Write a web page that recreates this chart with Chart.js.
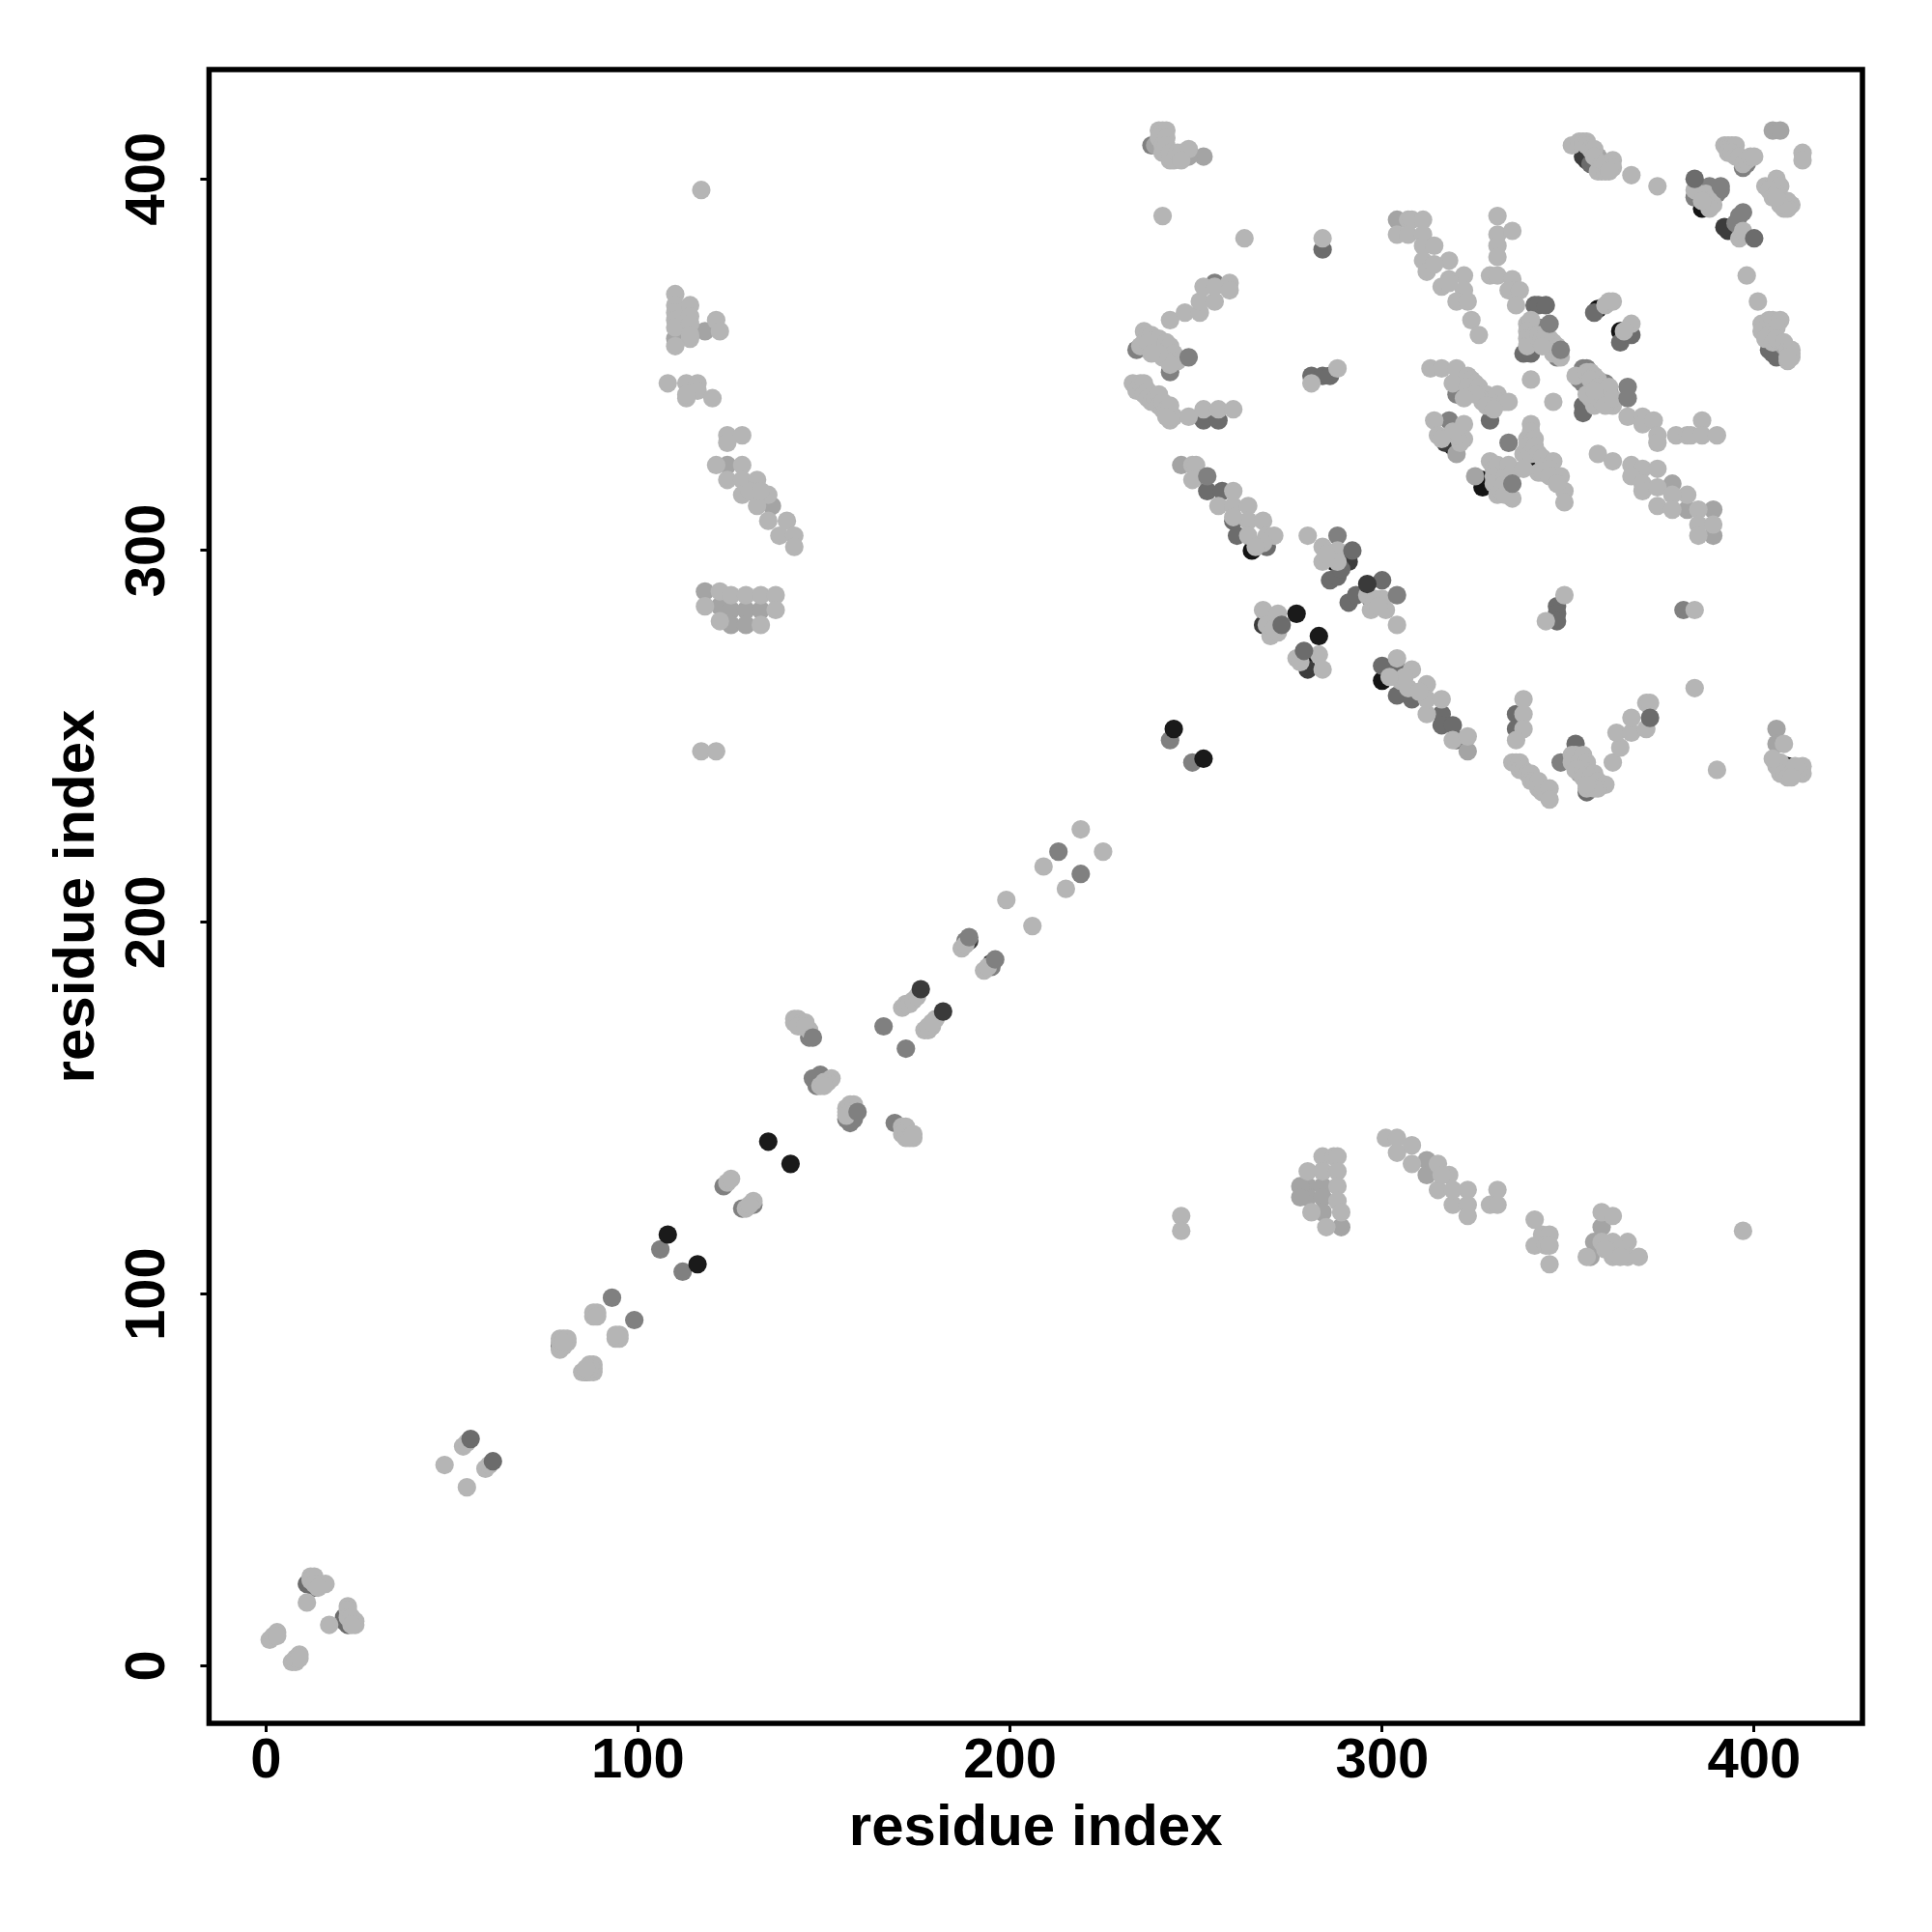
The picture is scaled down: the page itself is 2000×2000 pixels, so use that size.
<!DOCTYPE html>
<html>
<head>
<meta charset="utf-8">
<style>html,body{margin:0;padding:0;background:#fff}canvas{display:block}</style>
<script src="https://cdn.jsdelivr.net/npm/chart.js@4"></script>
</head>
<body>
<canvas id="contact-map" width="2000" height="2000"></canvas>
<script>
'use strict';

const axisTitle = 'residue index';
const xMin = -15.3;
const xMax = 429.1;
const yMin = -15.5;
const yMax = 429.4;
const tickStep = 100;

// [i, j] residue pairs, grouped by shade
const blackPairs = [[240,409],[265,300],[297,287],[287,297],[270,280],[279,271],[300,265],[386,392],[358,365],[364,359],[409,242],[319,328],[327,319],[327,317],[339,323]];
const darkPairs = [[189,195],[195,189],[291,297],[268,280],[280,268],[393,386],[392,387],[317,329],[355,405],[354,406]];
const dimPairs = [[11,22],[13,21],[21,12],[22,11],[21,13],[79,86],[86,79],[250,320],[253,316],[257,316],[260,308],[261,304],[269,301],[286,292],[288,293],[289,295],[291,286],[293,288],[300,292],[300,269],[304,268],[304,261],[308,260],[316,256],[316,253],[319,253],[320,249],[347,285],[347,283],[347,281],[336,256],[336,252],[352,248],[355,235],[357,364],[364,356],[367,358],[341,366],[342,366],[344,366],[338,353],[340,353],[354,339],[354,337],[329,335],[284,381],[281,347],[284,347],[286,347],[252,335],[256,335],[404,354],[405,353],[406,352],[356,404]];
const midPairs = [[112,106],[106,112],[93,99],[99,93],[146,169],[147,158],[149,159],[148,156],[156,147],[158,147],[157,146],[123,129],[131,124],[128,123],[169,146],[166,172],[172,166],[188,195],[195,188],[213,219],[219,213],[243,249],[249,243],[288,304],[381,284],[348,243],[255,372],[243,348],[234,354],[238,409],[318,335],[334,329],[396,390],[388,398],[389,397],[391,397],[390,396],[384,395],[354,347],[353,346],[354,349],[355,349],[354,345],[356,344],[360,345],[361,343],[342,360],[347,352],[320,342],[398,404],[397,403],[395,388]];
const basePairs = [[246,323],[304,389],[252,406],[248,406],[118,359],[136,312],[124,323],[122,285],[125,284],[129,284],[133,284],[125,280],[129,280],[118,289],[284,133],[280,129],[284,129],[280,126],[284,126],[284,122],[278,129],[278,126],[289,118],[312,136],[312,132],[357,114],[356,110],[359,118],[323,246],[406,252],[406,248],[389,311],[389,304],[382,311],[378,318],[325,320],[320,326],[353,240],[358,406],[408,355],[238,354],[110,357],[239,409],[405,413],[407,413]];
const lightPairs = [
  [1,7],[2,8],[3,9],[3,8],[7,1],[8,1],[8,2],[9,3],[9,2],[12,24],[13,24],[14,22],[16,22],[12,23],[13,22],[14,21],[11,17],[17,11],[22,16],[22,15],[22,13],[23,13],[24,12],[24,11],[23,11],
  [53,59],[54,60],[48,54],[59,53],[60,54],[54,48],[88,94],[89,95],[88,95],[89,94],[94,88],[95,89],[95,88],[94,89],[79,85],[79,87],[79,88],[80,88],[81,88],[81,87],[80,86],[80,87],[85,79],[86,79],[87,79],[88,79],[88,80],[88,81],[87,81],[87,80],[86,80],
  [124,130],[125,131],[129,123],[131,125],[130,124],[142,174],[142,173],[143,174],[144,173],[145,173],[146,171],[144,172],[143,172],[145,172],[149,156],[152,158],[151,157],[150,157],[150,156],[156,149],[156,150],[157,151],[158,151],[157,149],[156,148],[171,145],[172,145],[172,144],[173,143],[174,142],[171,143],[172,142],[173,142],[174,143],
  [171,177],[172,178],[173,178],[174,179],[175,180],[177,171],[178,171],[179,172],[180,174],[178,172],[179,173],[187,193],[188,194],[193,187],[194,188],[199,206],[206,199],[209,215],[219,225],[225,219],[215,209],
  [117,397],[117,246],[121,246],[246,121],[246,117],[397,117],
  [110,369],[110,366],[110,364],[110,362],[110,360],[114,366],[114,363],[114,361],[114,357],[110,355],[121,362],[122,359],[114,358],[108,345],[113,345],[116,345],[113,341],[116,343],[120,341],[113,342],[124,331],[128,331],[124,329],
  [121,323],[128,323],[124,319],[128,319],[132,319],[128,315],[132,315],[135,315],[132,312],[135,308],[140,308],[138,304],[142,304],[142,301],[130,316],[133,316],[122,289],[125,288],[129,288],[133,288],[137,288],[118,285],[137,284],[122,281],[133,280],
  [284,137],[287,137],[288,137],[280,133],[284,133],[288,133],[288,129],[288,125],[281,122],[289,122],[285,118],[301,142],[304,142],[304,138],[308,140],[308,135],[315,135],[318,132],[315,128],[319,124],[323,128],[323,124],[323,121],[319,128],[316,132],[331,128],[329,124],[331,124],[341,120],[343,116],[345,116],[341,113],[344,113],[345,113],[345,108],[359,122],[362,121],[359,114],[355,110],[362,114],[366,114],[362,110],[366,110],[369,110],[364,112],[360,112],[364,110],
  [240,413],[241,413],[242,413],[240,411],[242,411],[241,409],[242,409],[241,407],[243,407],[243,405],[244,405],[245,407],[246,407],[248,408],[246,405],[241,390],[263,384],[284,384],
  [243,362],[247,364],[251,364],[251,367],[255,367],[252,371],[255,371],[259,372],[259,370],[236,359],[237,358],[236,356],[238,358],[238,355],[239,357],[240,357],[241,354],[242,356],[243,355],[243,352],[244,353],[245,351],[241,352],[243,350],[240,353],[235,355],[237,356],[238,353],
  [233,345],[234,343],[235,345],[236,345],[236,342],[237,343],[237,341],[238,340],[239,341],[240,342],[240,339],[241,338],[241,340],[242,338],[243,335],[243,337],[244,336],[243,339],[242,336],[248,336],[252,338],[256,338],[260,338],[281,345],[288,349],
  [249,323],[250,323],[249,319],[260,316],[256,312],[260,312],[264,312],[264,308],[268,308],[260,309],[264,304],[269,304],[271,304],[268,302],[280,304],[284,301],[284,297],[288,300],[288,297],[285,299],[296,288],[297,284],[301,284],[300,287],[298,287],[299,285],[304,280],[268,284],[272,283],[270,277],[269,280],[272,278],[271,279],[277,271],[283,272],[284,268],[278,270],
  [304,271],[308,268],[305,265],[307,263],[312,264],[312,256],[312,260],[316,260],[319,249],[323,250],[306,266],[310,262],
  [304,385],[307,389],[308,389],[311,389],[307,385],[311,385],[311,382],[314,382],[311,378],[318,378],[312,375],[314,377],[322,374],[316,371],[318,373],[322,370],[320,367],[323,367],[324,362],[326,358],[331,390],[331,385],[331,382],[331,379],[335,386],[329,374],[331,374],[335,373],[335,370],[334,370],[337,370],[336,366],[318,372],
  [313,349],[316,349],[320,349],[319,345],[323,347],[324,346],[325,345],[323,344],[326,344],[328,342],[329,341],[327,340],[330,341],[331,342],[332,340],[333,340],[334,340],[325,342],[328,339],[330,338],[322,341],[314,335],[315,331],[322,334],[322,330],[321,329],[320,331],[319,332],[316,330],
  [329,324],[330,322],[331,323],[330,320],[330,318],[331,315],[333,320],[333,318],[334,323],[335,321],[335,314],[332,316],[333,315],[340,334],[339,330],[340,332],[341,330],[338,326],[339,328],[340,326],[341,328],[342,326],[343,325],[344,323],[346,324],[345,322],[342,321],[343,321],[346,320],[348,320],[349,316],[349,313],[345,320],[347,318],[338,322],[340,346],[346,340],
  [339,361],[340,362],[339,359],[339,357],[339,355],[341,358],[342,358],[343,357],[344,355],[345,357],[346,353],[347,355],[346,356],[344,358],[343,355],[348,352],
  [352,347],[355,348],[356,348],[357,347],[358,346],[356,346],[358,344],[360,342],[361,344],[358,342],[356,341],[357,339],[359,340],[362,339],[360,339],[355,342],[357,343],[362,341],[366,336],[370,336],[370,334],[373,335],[374,331],[374,329],[379,331],[382,331],[383,331],[386,335],[386,331],[390,331],
  [358,326],[362,324],[367,323],[370,322],[374,322],[367,320],[370,318],[370,316],[374,317],[382,315],[378,315],[374,312],[378,311],[385,311],[385,307],[389,307],[385,304],
  [349,288],[344,281],[384,284],[384,263],[338,260],[338,256],[338,252],[336,249],[390,241],
  [335,243],[336,243],[337,243],[337,241],[338,241],[339,240],[340,240],[340,238],[341,238],[342,238],[342,236],[343,235],[344,235],[345,236],[345,233],
  [351,245],[352,245],[354,245],[351,243],[353,243],[355,243],[355,242],[352,241],[354,241],[356,240],[357,240],[354,239],[356,239],[358,238],[360,237],[358,236],[355,236],[357,236],[355,237],[362,243],[364,247],[363,251],[367,251],[371,252],[367,255],[371,259],[372,259],
  [406,242],[407,243],[407,240],[408,240],[410,240],[413,242],[413,240],[412,241],[411,242],[405,244],[408,248],[409,239],[410,239],
  [351,409],[353,410],[354,410],[355,410],[355,409],[356,408],[357,408],[357,406],[359,404],[359,402],[358,402],[360,402],[360,404],[362,405],[362,403],[361,402],[367,401],[374,398],
  [384,397],[387,396],[387,394],[388,394],[389,393],[388,392],[386,394],[396,384],[397,386],[392,409],[393,409],[394,409],[395,409],[393,407],[394,407],[395,406],[396,406],[397,404],[398,405],[399,406],[400,406],[413,407],[413,405],
  [403,398],[405,398],[406,400],[407,398],[404,397],[405,395],[406,396],[407,395],[408,394],[409,394],[410,393],[409,392],[408,392],[407,393],[406,395],[398,374],[401,367],
  [402,361],[402,359],[404,362],[405,362],[407,362],[406,360],[404,358],[403,357],[405,356],[406,357],[408,356],[409,354],[410,354],[410,352],[409,351],[410,353],[409,352],
  [360,366],[361,367],[362,367],[367,361],[365,359],[302,266],[266,301]
];
// these sit above the light dots in the picture
const topMidPairs = [[147,169],[189,196],[196,190],[159,149],[335,318],[248,352],[391,398],[397,391],[366,344],[366,341],[345,361],[348,354],[304,288],[253,320]];
const topDimPairs = [[55,61],[61,55],[292,300],[400,384],[384,400],[372,255],[273,280],[279,273]];
const topDarkPairs = [[176,182],[182,176],[296,291]];
const topBlackPairs = [[116,108],[108,116],[135,141],[141,135],[244,252],[252,244],[277,283],[283,277]];

// bottom to top
const layers = [
  {pairs: blackPairs, color: '#141414'},
  {pairs: darkPairs, color: '#3c3c3c'},
  {pairs: dimPairs, color: '#6c6c6c'},
  {pairs: midPairs, color: '#808080'},
  {pairs: basePairs, color: '#a4a4a4'},
  {pairs: lightPairs, color: '#b5b5b5'},
  {pairs: topMidPairs, color: '#808080'},
  {pairs: topDimPairs, color: '#6c6c6c'},
  {pairs: topDarkPairs, color: '#3a3a3a'},
  {pairs: topBlackPairs, color: '#1a1a1a'}
];

const boxFrame = {
  id: 'boxFrame',
  afterDatasetsDraw(chart){
    const {ctx, chartArea: a} = chart;
    ctx.save();
    ctx.strokeStyle = '#000';
    ctx.lineWidth = 5.5;
    ctx.strokeRect(a.left, a.top, a.right - a.left, a.bottom - a.top);
    ctx.restore();
  }
};

const tickFont = {family: '"Liberation Sans"', weight: 'bold', size: 58};
const titleFont = {family: '"Liberation Sans"', weight: 'bold', size: 60};

function axis(extra){
  return Object.assign({
    type: 'linear',
    border: {display: false},
    grid: {drawOnChartArea: false, drawTicks: true, tickLength: 9, tickWidth: 3, tickColor: '#000'}
  }, extra);
}

new Chart(document.querySelector('#contact-map'), {
  type: 'scatter',
  data: {
    datasets: layers.map((layer, i)=>({
      label: 'shade ' + i,
      data: layer.pairs.map((p)=>({x: p[0], y: p[1]})),
      backgroundColor: layer.color,
      borderWidth: 0,
      pointRadius: 9.6,
      order: layers.length - i
    }))
  },
  options: {
    responsive: false,
    animation: false,
    layout: {padding: {top: 72, right: 72, left: 0, bottom: 0}},
    plugins: {legend: {display: false}, tooltip: {enabled: false}},
    scales: {
      x: axis({
        position: 'bottom',
        min: xMin,
        max: xMax,
        afterFit(scale){ scale.height = 216; },
        ticks: {stepSize: tickStep, includeBounds: false, color: '#000', font: tickFont, padding: -4, maxRotation: 0},
        title: {display: true, text: axisTitle, color: '#000', font: titleFont, padding: {top: 0, bottom: 71}}
      }),
      y: axis({
        position: 'left',
        min: yMin,
        max: yMax,
        afterFit(scale){ scale.width = 216.4; },
        ticks: {stepSize: tickStep, includeBounds: false, color: '#000', font: tickFont, padding: 5, minRotation: 90, maxRotation: 90, crossAlign: 'center'},
        title: {display: true, text: axisTitle, color: '#000', font: titleFont, padding: {top: 44, bottom: 0}}
      })
    }
  },
  plugins: [boxFrame]
});
</script>
</body>
</html>
